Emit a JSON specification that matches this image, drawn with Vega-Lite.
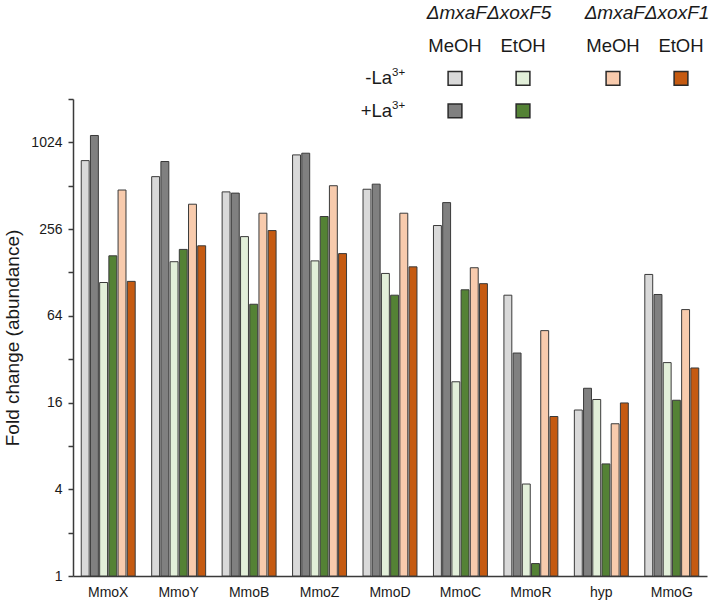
{
  "$schema": "https://vega.github.io/schema/vega-lite/v6.json",
  "width": 634,
  "height": 477,
  "autosize": {"type": "none"},
  "padding": {"left": 73, "top": 99, "right": 2, "bottom": 28},
  "background": "white",
  "config": {
    "view": {"stroke": null},
    "font": "Liberation Sans",
    "text": {"font": "Liberation Sans", "color": "#1a1a1a"}
  },
  "datasets": {
    "bars": [
      {"gene": "MmoX", "series": "xoxF5 MeOH -La", "value": 765},
      {"gene": "MmoX", "series": "xoxF5 MeOH +La", "value": 1143},
      {"gene": "MmoX", "series": "xoxF5 EtOH -La", "value": 109},
      {"gene": "MmoX", "series": "xoxF5 EtOH +La", "value": 167},
      {"gene": "MmoX", "series": "xoxF1 MeOH -La", "value": 478},
      {"gene": "MmoX", "series": "xoxF1 EtOH -La", "value": 111},
      {"gene": "MmoY", "series": "xoxF5 MeOH -La", "value": 592},
      {"gene": "MmoY", "series": "xoxF5 MeOH +La", "value": 754},
      {"gene": "MmoY", "series": "xoxF5 EtOH -La", "value": 152},
      {"gene": "MmoY", "series": "xoxF5 EtOH +La", "value": 185},
      {"gene": "MmoY", "series": "xoxF1 MeOH -La", "value": 381},
      {"gene": "MmoY", "series": "xoxF1 EtOH -La", "value": 196},
      {"gene": "MmoB", "series": "xoxF5 MeOH -La", "value": 464},
      {"gene": "MmoB", "series": "xoxF5 MeOH +La", "value": 455},
      {"gene": "MmoB", "series": "xoxF5 EtOH -La", "value": 227},
      {"gene": "MmoB", "series": "xoxF5 EtOH +La", "value": 77},
      {"gene": "MmoB", "series": "xoxF1 MeOH -La", "value": 330},
      {"gene": "MmoB", "series": "xoxF1 EtOH -La", "value": 250},
      {"gene": "MmoZ", "series": "xoxF5 MeOH -La", "value": 838},
      {"gene": "MmoZ", "series": "xoxF5 MeOH +La", "value": 861},
      {"gene": "MmoZ", "series": "xoxF5 EtOH -La", "value": 154},
      {"gene": "MmoZ", "series": "xoxF5 EtOH +La", "value": 313},
      {"gene": "MmoZ", "series": "xoxF1 MeOH -La", "value": 512},
      {"gene": "MmoZ", "series": "xoxF1 EtOH -La", "value": 173},
      {"gene": "MmoD", "series": "xoxF5 MeOH -La", "value": 484},
      {"gene": "MmoD", "series": "xoxF5 MeOH +La", "value": 525},
      {"gene": "MmoD", "series": "xoxF5 EtOH -La", "value": 126},
      {"gene": "MmoD", "series": "xoxF5 EtOH +La", "value": 89},
      {"gene": "MmoD", "series": "xoxF1 MeOH -La", "value": 330},
      {"gene": "MmoD", "series": "xoxF1 EtOH -La", "value": 140},
      {"gene": "MmoC", "series": "xoxF5 MeOH -La", "value": 271},
      {"gene": "MmoC", "series": "xoxF5 MeOH +La", "value": 391},
      {"gene": "MmoC", "series": "xoxF5 EtOH -La", "value": 22.3},
      {"gene": "MmoC", "series": "xoxF5 EtOH +La", "value": 97},
      {"gene": "MmoC", "series": "xoxF1 MeOH -La", "value": 138},
      {"gene": "MmoC", "series": "xoxF1 EtOH -La", "value": 107},
      {"gene": "MmoR", "series": "xoxF5 MeOH -La", "value": 89},
      {"gene": "MmoR", "series": "xoxF5 MeOH +La", "value": 35.3},
      {"gene": "MmoR", "series": "xoxF5 EtOH -La", "value": 4.35},
      {"gene": "MmoR", "series": "xoxF5 EtOH +La", "value": 1.22},
      {"gene": "MmoR", "series": "xoxF1 MeOH -La", "value": 50.5},
      {"gene": "MmoR", "series": "xoxF1 EtOH -La", "value": 12.8},
      {"gene": "hyp", "series": "xoxF5 MeOH -La", "value": 14.2},
      {"gene": "hyp", "series": "xoxF5 MeOH +La", "value": 20.1},
      {"gene": "hyp", "series": "xoxF5 EtOH -La", "value": 16.8},
      {"gene": "hyp", "series": "xoxF5 EtOH +La", "value": 6.0},
      {"gene": "hyp", "series": "xoxF1 MeOH -La", "value": 11.4},
      {"gene": "hyp", "series": "xoxF1 EtOH -La", "value": 15.9},
      {"gene": "MmoG", "series": "xoxF5 MeOH -La", "value": 124},
      {"gene": "MmoG", "series": "xoxF5 MeOH +La", "value": 90},
      {"gene": "MmoG", "series": "xoxF5 EtOH -La", "value": 30.3},
      {"gene": "MmoG", "series": "xoxF5 EtOH +La", "value": 16.6},
      {"gene": "MmoG", "series": "xoxF1 MeOH -La", "value": 70.7},
      {"gene": "MmoG", "series": "xoxF1 EtOH -La", "value": 27.8}
    ],
    "legend": [
      {"kind": "header", "col": "F5", "row": "header", "text": "ΔmxaFΔxoxF5"},
      {"kind": "header", "col": "F1", "row": "header", "text": "ΔmxaFΔxoxF1"},
      {"kind": "solvent", "col": "F5", "solvent": "MeOH", "row": "solvent", "text": "MeOH"},
      {"kind": "solvent", "col": "F5", "solvent": "EtOH", "row": "solvent", "text": "EtOH"},
      {"kind": "solvent", "col": "F1", "solvent": "MeOH", "row": "solvent", "text": "MeOH"},
      {"kind": "solvent", "col": "F1", "solvent": "EtOH", "row": "solvent", "text": "EtOH"},
      {"kind": "square", "col": "F5", "solvent": "MeOH", "row": "-La", "series": "xoxF5 MeOH -La"},
      {"kind": "square", "col": "F5", "solvent": "EtOH", "row": "-La", "series": "xoxF5 EtOH -La"},
      {"kind": "square", "col": "F1", "solvent": "MeOH", "row": "-La", "series": "xoxF1 MeOH -La"},
      {"kind": "square", "col": "F1", "solvent": "EtOH", "row": "-La", "series": "xoxF1 EtOH -La"},
      {"kind": "square", "col": "F5", "solvent": "MeOH", "row": "+La", "series": "xoxF5 MeOH +La"},
      {"kind": "square", "col": "F5", "solvent": "EtOH", "row": "+La", "series": "xoxF5 EtOH +La"},
      {"kind": "rowlabel", "col": "label", "row": "-La", "text": "-La", "sup": "3+"},
      {"kind": "rowlabel", "col": "label", "row": "+La", "text": "+La", "sup": "3+"}
    ]
  },
  "layer": [
    {
      "data": {"name": "bars"},
      "mark": {"type": "bar", "stroke": "#3a3a3a", "strokeWidth": 1},
      "encoding": {
        "x": {
          "field": "gene",
          "type": "nominal",
          "sort": ["MmoX", "MmoY", "MmoB", "MmoZ", "MmoD", "MmoC", "MmoR", "hyp", "MmoG"],
          "scale": {"paddingInner": 0.234, "paddingOuter": 0.117},
          "axis": {
            "title": null,
            "labelAngle": 0,
            "ticks": false,
            "tickSize": 0,
            "labelPadding": 9,
            "labelFontSize": 14,
            "labelColor": "#1a1a1a",
            "labelFont": "Liberation Sans",
            "domainColor": "#3a3a3a",
            "domainWidth": 1.5
          }
        },
        "xOffset": {
          "field": "series",
          "type": "nominal",
          "sort": ["xoxF5 MeOH -La", "xoxF5 MeOH +La", "xoxF5 EtOH -La", "xoxF5 EtOH +La", "xoxF1 MeOH -La", "xoxF1 EtOH -La"],
          "scale": {"paddingInner": 0.14, "paddingOuter": 0}
        },
        "y": {
          "field": "value",
          "type": "quantitative",
          "scale": {"type": "log", "base": 2, "domain": [1, 2048], "nice": false},
          "axis": {
            "title": "Fold change (abundance)",
            "titleFontSize": 19,
            "titleFontWeight": "normal",
            "titleColor": "#1a1a1a",
            "titleFont": "Liberation Sans",
            "titlePadding": 8,
            "values": [1, 2, 4, 8, 16, 32, 64, 128, 256, 512, 1024, 2048],
            "format": "d",
            "labelExpr": "indexof(['1','4','16','64','256','1024'], datum.label) >= 0 ? datum.label : ''",
            "labelFontSize": 14,
            "labelColor": "#1a1a1a",
            "labelFont": "Liberation Sans",
            "labelPadding": 6,
            "tickSize": 5,
            "tickColor": "#3a3a3a",
            "tickWidth": 1.5,
            "domainColor": "#3a3a3a",
            "domainWidth": 1.5,
            "grid": false
          }
        },
        "y2": {"datum": 1},
        "color": {
          "field": "series",
          "type": "nominal",
          "scale": {
            "domain": ["xoxF5 MeOH -La", "xoxF5 MeOH +La", "xoxF5 EtOH -La", "xoxF5 EtOH +La", "xoxF1 MeOH -La", "xoxF1 EtOH -La"],
            "range": ["#d9d9d9", "#808080", "#e2efd9", "#548235", "#f8cbad", "#c55a11"]
          },
          "legend": null
        }
      }
    },
    {
      "data": {"name": "legend"},
      "encoding": {
        "x": {
          "field": "col",
          "type": "nominal",
          "scale": {"type": "band", "domain": ["label", "F5", "F1"], "range": [190, 642], "paddingInner": 0.139, "paddingOuter": 0},
          "axis": null
        },
        "y": {
          "field": "row",
          "type": "nominal",
          "scale": {"type": "point", "domain": ["header", "solvent", "-La", "+La"], "range": [-85.9, 11.9], "padding": 0},
          "axis": null
        }
      },
      "layer": [
        {
          "transform": [{"filter": "datum.kind === 'header'"}],
          "mark": {"type": "text", "fontSize": 19, "fontStyle": "italic", "align": "center", "baseline": "middle"},
          "encoding": {"text": {"field": "text"}}
        },
        {
          "transform": [{"filter": "datum.kind === 'solvent'"}],
          "mark": {"type": "text", "fontSize": 18.5, "align": "center", "baseline": "middle"},
          "encoding": {
            "xOffset": {"field": "solvent", "type": "nominal", "scale": {"type": "point", "domain": ["MeOH", "EtOH"], "padding": 0.5}},
            "text": {"field": "text"}
          }
        },
        {
          "transform": [{"filter": "datum.kind === 'square'"}],
          "mark": {"type": "square", "size": 190, "filled": true, "opacity": 1, "stroke": "#2a2a2a", "strokeWidth": 1.5},
          "encoding": {
            "xOffset": {"field": "solvent", "type": "nominal", "scale": {"type": "point", "domain": ["MeOH", "EtOH"], "padding": 0.5}},
            "color": {"field": "series", "type": "nominal", "legend": null}
          }
        },
        {
          "transform": [{"filter": "datum.kind === 'rowlabel'"}],
          "mark": {"type": "text", "fontSize": 18.5, "align": "right", "baseline": "middle", "dx": -7},
          "encoding": {
            "x": {"field": "col", "type": "nominal", "bandPosition": 1},
            "text": {"field": "text"}
          }
        },
        {
          "transform": [{"filter": "datum.kind === 'rowlabel'"}],
          "mark": {"type": "text", "fontSize": 11.5, "align": "left", "baseline": "middle", "dx": -7, "dy": -5},
          "encoding": {
            "x": {"field": "col", "type": "nominal", "bandPosition": 1},
            "text": {"field": "sup"}
          }
        }
      ]
    }
  ],
  "resolve": {"scale": {"x": "independent", "xOffset": "independent", "y": "independent"}}
}
